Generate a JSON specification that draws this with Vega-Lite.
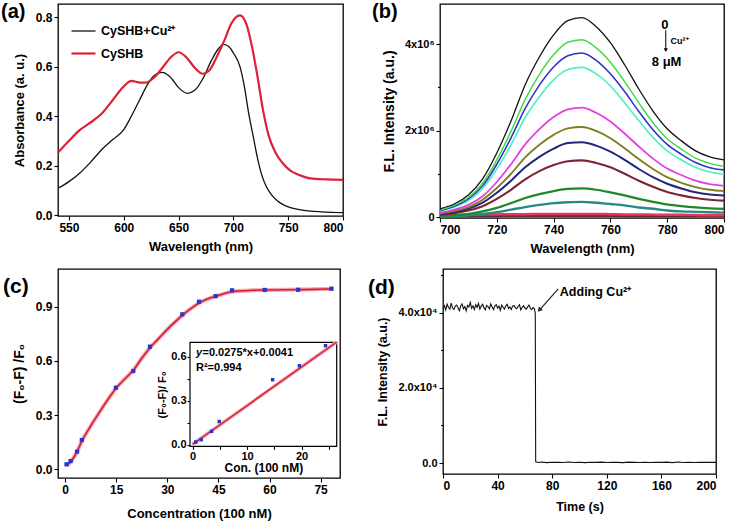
{
  "$schema": "https://vega.github.io/schema/vega-lite/v6.json",
  "padding": {"left": 0, "top": 1, "right": 0, "bottom": 0},
  "autosize": {"type": "pad"},
  "background": "white",
  "config": {
    "font": "Liberation Sans",
    "view": {"stroke": "black", "strokeWidth": 1.3},
    "axis": {"grid": false, "domain": false, "tickColor": "black", "tickWidth": 1.1, "tickSize": 4, "labelFont": "Liberation Sans", "labelFontWeight": "bold", "labelFontSize": 12, "labelColor": "black", "labelPadding": 2, "titleFont": "Liberation Sans", "titleFontWeight": "bold", "titleFontSize": 13, "titleColor": "black"},
    "text": {"font": "Liberation Sans", "fontWeight": "bold", "color": "black"}
  },
  "spacing": 12,
  "resolve": {"scale": {"color": "independent", "strokeWidth": "independent"}, "legend": {"color": "independent", "strokeWidth": "independent"}},
  "vconcat": [
    {
      "spacing": 22,
      "resolve": {"scale": {"color": "independent", "strokeWidth": "independent"}, "legend": {"color": "independent", "strokeWidth": "independent"}},
      "hconcat": [
        {
          "width": 285,
          "height": 212,
          "layer": [
            {
              "data": {"values": [
                {"sample": "CySHB+Cu²⁺", "wavelength": 540, "abs": 0.108},
                {"sample": "CySHB+Cu²⁺", "wavelength": 550, "abs": 0.135},
                {"sample": "CySHB+Cu²⁺", "wavelength": 560, "abs": 0.17},
                {"sample": "CySHB+Cu²⁺", "wavelength": 570, "abs": 0.215},
                {"sample": "CySHB+Cu²⁺", "wavelength": 580, "abs": 0.265},
                {"sample": "CySHB+Cu²⁺", "wavelength": 590, "abs": 0.305},
                {"sample": "CySHB+Cu²⁺", "wavelength": 600, "abs": 0.345},
                {"sample": "CySHB+Cu²⁺", "wavelength": 607, "abs": 0.4},
                {"sample": "CySHB+Cu²⁺", "wavelength": 615, "abs": 0.47},
                {"sample": "CySHB+Cu²⁺", "wavelength": 622, "abs": 0.53},
                {"sample": "CySHB+Cu²⁺", "wavelength": 628, "abs": 0.565},
                {"sample": "CySHB+Cu²⁺", "wavelength": 635, "abs": 0.577},
                {"sample": "CySHB+Cu²⁺", "wavelength": 642, "abs": 0.56},
                {"sample": "CySHB+Cu²⁺", "wavelength": 650, "abs": 0.515},
                {"sample": "CySHB+Cu²⁺", "wavelength": 658, "abs": 0.492},
                {"sample": "CySHB+Cu²⁺", "wavelength": 665, "abs": 0.505},
                {"sample": "CySHB+Cu²⁺", "wavelength": 672, "abs": 0.55},
                {"sample": "CySHB+Cu²⁺", "wavelength": 680, "abs": 0.625},
                {"sample": "CySHB+Cu²⁺", "wavelength": 686, "abs": 0.67},
                {"sample": "CySHB+Cu²⁺", "wavelength": 691, "abs": 0.69},
                {"sample": "CySHB+Cu²⁺", "wavelength": 696, "abs": 0.68},
                {"sample": "CySHB+Cu²⁺", "wavelength": 700, "abs": 0.655},
                {"sample": "CySHB+Cu²⁺", "wavelength": 706, "abs": 0.6},
                {"sample": "CySHB+Cu²⁺", "wavelength": 710, "abs": 0.52},
                {"sample": "CySHB+Cu²⁺", "wavelength": 714, "abs": 0.41},
                {"sample": "CySHB+Cu²⁺", "wavelength": 718, "abs": 0.32},
                {"sample": "CySHB+Cu²⁺", "wavelength": 722, "abs": 0.23},
                {"sample": "CySHB+Cu²⁺", "wavelength": 726, "abs": 0.16},
                {"sample": "CySHB+Cu²⁺", "wavelength": 730, "abs": 0.115},
                {"sample": "CySHB+Cu²⁺", "wavelength": 735, "abs": 0.08},
                {"sample": "CySHB+Cu²⁺", "wavelength": 740, "abs": 0.058},
                {"sample": "CySHB+Cu²⁺", "wavelength": 745, "abs": 0.043},
                {"sample": "CySHB+Cu²⁺", "wavelength": 750, "abs": 0.033},
                {"sample": "CySHB+Cu²⁺", "wavelength": 760, "abs": 0.022},
                {"sample": "CySHB+Cu²⁺", "wavelength": 770, "abs": 0.016},
                {"sample": "CySHB+Cu²⁺", "wavelength": 780, "abs": 0.013},
                {"sample": "CySHB+Cu²⁺", "wavelength": 790, "abs": 0.011},
                {"sample": "CySHB+Cu²⁺", "wavelength": 800, "abs": 0.01},
                {"sample": "CySHB", "wavelength": 540, "abs": 0.252},
                {"sample": "CySHB", "wavelength": 550, "abs": 0.3},
                {"sample": "CySHB", "wavelength": 560, "abs": 0.344},
                {"sample": "CySHB", "wavelength": 570, "abs": 0.375},
                {"sample": "CySHB", "wavelength": 580, "abs": 0.41},
                {"sample": "CySHB", "wavelength": 590, "abs": 0.465},
                {"sample": "CySHB", "wavelength": 600, "abs": 0.52},
                {"sample": "CySHB", "wavelength": 607, "abs": 0.542},
                {"sample": "CySHB", "wavelength": 615, "abs": 0.535},
                {"sample": "CySHB", "wavelength": 620, "abs": 0.535},
                {"sample": "CySHB", "wavelength": 628, "abs": 0.557},
                {"sample": "CySHB", "wavelength": 635, "abs": 0.594},
                {"sample": "CySHB", "wavelength": 643, "abs": 0.638},
                {"sample": "CySHB", "wavelength": 650, "abs": 0.658},
                {"sample": "CySHB", "wavelength": 657, "abs": 0.638},
                {"sample": "CySHB", "wavelength": 665, "abs": 0.594},
                {"sample": "CySHB", "wavelength": 672, "abs": 0.571},
                {"sample": "CySHB", "wavelength": 678, "abs": 0.584},
                {"sample": "CySHB", "wavelength": 685, "abs": 0.641},
                {"sample": "CySHB", "wavelength": 692, "abs": 0.708},
                {"sample": "CySHB", "wavelength": 698, "abs": 0.773},
                {"sample": "CySHB", "wavelength": 706, "abs": 0.807},
                {"sample": "CySHB", "wavelength": 712, "abs": 0.77},
                {"sample": "CySHB", "wavelength": 717, "abs": 0.68},
                {"sample": "CySHB", "wavelength": 722, "abs": 0.56},
                {"sample": "CySHB", "wavelength": 727, "abs": 0.425},
                {"sample": "CySHB", "wavelength": 732, "abs": 0.324},
                {"sample": "CySHB", "wavelength": 738, "abs": 0.256},
                {"sample": "CySHB", "wavelength": 745, "abs": 0.209},
                {"sample": "CySHB", "wavelength": 752, "abs": 0.179},
                {"sample": "CySHB", "wavelength": 760, "abs": 0.162},
                {"sample": "CySHB", "wavelength": 770, "abs": 0.148},
                {"sample": "CySHB", "wavelength": 785, "abs": 0.144},
                {"sample": "CySHB", "wavelength": 800, "abs": 0.142}
              ]},
              "mark": {"type": "line", "interpolate": "monotone"},
              "encoding": {
                "x": {"field": "wavelength", "type": "quantitative", "scale": {"domain": [540, 800], "nice": false, "zero": false},
                      "axis": {"title": "Wavelength (nm)", "titlePadding": 7, "values": [550, 575, 600, 625, 650, 675, 700, 725, 750, 775, 800],
                               "labelExpr": "datum.value % 50 === 0 ? format(datum.value, 'd') : ''",
                               "tickSize": {"condition": {"test": "datum.value % 50 === 0", "value": 4}, "value": 2.5}}},
                "y": {"field": "abs", "type": "quantitative", "scale": {"domain": [-0.004, 0.853], "nice": false, "zero": false},
                      "axis": {"title": "Absorbance (a. u.)", "titlePadding": 9, "values": [0, 0.1, 0.2, 0.3, 0.4, 0.5, 0.6, 0.7, 0.8],
                               "labelExpr": "round(datum.value * 10) % 2 === 0 ? format(datum.value, '.1f') : ''",
                               "tickSize": {"condition": {"test": "round(datum.value * 10) % 2 === 0", "value": 4}, "value": 2.5}}},
                "color": {"field": "sample", "type": "nominal", "scale": {"domain": ["CySHB+Cu²⁺", "CySHB"], "range": ["#111111", "#dc2238"]},
                          "legend": {"orient": "none", "legendX": 12, "legendY": 14, "title": null, "symbolType": "stroke", "symbolSize": 576, "symbolStrokeWidth": 1.8, "labelFontSize": 12.5, "labelFontWeight": "bold", "labelFont": "Liberation Sans", "labelColor": "black", "rowPadding": 2, "labelOffset": 4}},
                "strokeWidth": {"field": "sample", "type": "nominal", "scale": {"domain": ["CySHB+Cu²⁺", "CySHB"], "range": [1.3, 2.2]}, "legend": null}
              }
            },
            {
              "data": {"values": [{"t": "(a)"}]},
              "mark": {"type": "text", "align": "left", "baseline": "top", "fontSize": 20, "dx": -57, "dy": -2},
              "encoding": {"x": {"datum": 540, "type": "quantitative"}, "y": {"datum": 0.853, "type": "quantitative"}, "text": {"field": "t"}}
            }
          ]
        },
        {
          "width": 284,
          "height": 214,
          "layer": [
            {
              "data": {"values": [
                {"w": 700, "c01": 0.19, "c02": 0.16, "c03": 0.15, "c04": 0.14, "c05": 0.10, "c06": 0.08, "c07": 0.07, "c08": 0.05, "c09": 0.03, "c10": 0.01, "c11": 0.04, "c12": 0.02},
                {"w": 705, "c01": 0.30, "c02": 0.27, "c03": 0.25, "c04": 0.23, "c05": 0.17, "c06": 0.14, "c07": 0.11, "c08": 0.09, "c09": 0.04, "c10": 0.02, "c11": 0.045, "c12": 0.02},
                {"w": 710, "c01": 0.51, "c02": 0.45, "c03": 0.42, "c04": 0.38, "c05": 0.28, "c06": 0.23, "c07": 0.19, "c08": 0.15, "c09": 0.07, "c10": 0.04, "c11": 0.05, "c12": 0.02},
                {"w": 715, "c01": 0.88, "c02": 0.78, "c03": 0.72, "c04": 0.66, "c05": 0.48, "c06": 0.40, "c07": 0.33, "c08": 0.25, "c09": 0.13, "c10": 0.07, "c11": 0.055, "c12": 0.02},
                {"w": 720, "c01": 1.48, "c02": 1.32, "c03": 1.22, "c04": 1.11, "c05": 0.81, "c06": 0.67, "c07": 0.56, "c08": 0.42, "c09": 0.21, "c10": 0.11, "c11": 0.06, "c12": 0.02},
                {"w": 725, "c01": 2.22, "c02": 1.98, "c03": 1.83, "c04": 1.67, "c05": 1.22, "c06": 1.00, "c07": 0.84, "c08": 0.63, "c09": 0.32, "c10": 0.17, "c11": 0.065, "c12": 0.025},
                {"w": 730, "c01": 3.06, "c02": 2.72, "c03": 2.51, "c04": 2.30, "c05": 1.68, "c06": 1.38, "c07": 1.15, "c08": 0.87, "c09": 0.44, "c10": 0.23, "c11": 0.065, "c12": 0.025},
                {"w": 735, "c01": 3.70, "c02": 3.30, "c03": 3.05, "c04": 2.78, "c05": 2.03, "c06": 1.67, "c07": 1.39, "c08": 1.06, "c09": 0.53, "c10": 0.28, "c11": 0.07, "c12": 0.025},
                {"w": 740, "c01": 4.21, "c02": 3.75, "c03": 3.47, "c04": 3.17, "c05": 2.31, "c06": 1.90, "c07": 1.58, "c08": 1.20, "c09": 0.60, "c10": 0.32, "c11": 0.07, "c12": 0.025},
                {"w": 745, "c01": 4.54, "c02": 4.04, "c03": 3.73, "c04": 3.41, "c05": 2.49, "c06": 2.05, "c07": 1.71, "c08": 1.29, "c09": 0.65, "c10": 0.34, "c11": 0.07, "c12": 0.025},
                {"w": 750, "c01": 4.61, "c02": 4.10, "c03": 3.79, "c04": 3.46, "c05": 2.53, "c06": 2.08, "c07": 1.73, "c08": 1.31, "c09": 0.66, "c10": 0.35, "c11": 0.07, "c12": 0.025},
                {"w": 755, "c01": 4.40, "c02": 3.91, "c03": 3.62, "c04": 3.31, "c05": 2.41, "c06": 1.99, "c07": 1.65, "c08": 1.25, "c09": 0.63, "c10": 0.33, "c11": 0.07, "c12": 0.025},
                {"w": 760, "c01": 4.03, "c02": 3.58, "c03": 3.31, "c04": 3.03, "c05": 2.21, "c06": 1.82, "c07": 1.51, "c08": 1.15, "c09": 0.57, "c10": 0.30, "c11": 0.065, "c12": 0.025},
                {"w": 765, "c01": 3.52, "c02": 3.13, "c03": 2.90, "c04": 2.64, "c05": 1.93, "c06": 1.59, "c07": 1.32, "c08": 1.00, "c09": 0.50, "c10": 0.27, "c11": 0.06, "c12": 0.02},
                {"w": 770, "c01": 2.96, "c02": 2.64, "c03": 2.44, "c04": 2.23, "c05": 1.63, "c06": 1.34, "c07": 1.11, "c08": 0.84, "c09": 0.42, "c10": 0.22, "c11": 0.06, "c12": 0.02},
                {"w": 775, "c01": 2.45, "c02": 2.18, "c03": 2.02, "c04": 1.84, "c05": 1.35, "c06": 1.11, "c07": 0.92, "c08": 0.70, "c09": 0.35, "c10": 0.19, "c11": 0.055, "c12": 0.02},
                {"w": 780, "c01": 2.04, "c02": 1.81, "c03": 1.68, "c04": 1.53, "c05": 1.12, "c06": 0.92, "c07": 0.77, "c08": 0.58, "c09": 0.29, "c10": 0.15, "c11": 0.05, "c12": 0.02},
                {"w": 785, "c01": 1.76, "c02": 1.57, "c03": 1.45, "c04": 1.32, "c05": 0.97, "c06": 0.79, "c07": 0.66, "c08": 0.50, "c09": 0.25, "c10": 0.13, "c11": 0.05, "c12": 0.02},
                {"w": 790, "c01": 1.53, "c02": 1.36, "c03": 1.26, "c04": 1.15, "c05": 0.84, "c06": 0.69, "c07": 0.57, "c08": 0.44, "c09": 0.22, "c10": 0.12, "c11": 0.045, "c12": 0.02},
                {"w": 795, "c01": 1.39, "c02": 1.24, "c03": 1.14, "c04": 1.04, "c05": 0.76, "c06": 0.63, "c07": 0.52, "c08": 0.40, "c09": 0.20, "c10": 0.11, "c11": 0.04, "c12": 0.02},
                {"w": 800, "c01": 1.32, "c02": 1.17, "c03": 1.09, "c04": 0.99, "c05": 0.72, "c06": 0.60, "c07": 0.50, "c08": 0.38, "c09": 0.19, "c10": 0.10, "c11": 0.04, "c12": 0.02}
              ]},
              "transform": [{"fold": ["c12", "c11", "c10", "c09", "c08", "c07", "c06", "c05", "c04", "c03", "c02", "c01"], "as": ["curve", "intensity"]}],
              "mark": {"type": "line", "interpolate": "monotone"},
              "encoding": {
                "x": {"field": "w", "type": "quantitative", "scale": {"domain": [700, 800], "nice": false, "zero": false},
                      "axis": {"title": "Wavelength (nm)", "titlePadding": 7, "values": [700, 710, 720, 730, 740, 750, 760, 770, 780, 790, 800],
                               "labelExpr": "datum.value % 20 === 0 ? format(datum.value, 'd') : ''",
                               "tickSize": {"condition": {"test": "datum.value % 20 === 0", "value": 4}, "value": 2.5}}},
                "y": {"field": "intensity", "type": "quantitative", "scale": {"domain": [-0.023, 4.925], "nice": false, "zero": false},
                      "axis": {"title": "F.L. Intensity (a.u.)", "titleFontSize": 14, "titlePadding": 8, "labelFontSize": 11, "values": [0, 0.5, 1, 1.5, 2, 2.5, 3, 3.5, 4, 4.5],
                               "labelExpr": "datum.value === 0 ? '0' : datum.value === 2 ? '2x10⁶' : datum.value === 4 ? '4x10⁶' : ''",
                               "tickSize": {"condition": {"test": "datum.value % 2 === 0", "value": 4}, "value": 2.5}}},
                "color": {"field": "curve", "type": "nominal", "legend": null,
                          "scale": {"domain": ["c01", "c02", "c03", "c04", "c05", "c06", "c07", "c08", "c09", "c10", "c11", "c12"],
                                    "range": ["#111111", "#3ddc3d", "#2e32c8", "#4ff0c4", "#e43ee4", "#7f7f1c", "#23267e", "#7e2434", "#24862a", "#258a86", "#e8365a", "#6a2a3a"]}},
                "strokeWidth": {"field": "curve", "type": "nominal", "legend": null,
                                "scale": {"domain": ["c01", "c02", "c03", "c04", "c05", "c06", "c07", "c08", "c09", "c10", "c11", "c12"],
                                          "range": [1.3, 2.6, 1.5, 2.6, 2.6, 1.5, 1.5, 1.5, 1.5, 1.5, 1.8, 1.2]}}
              }
            },
            {
              "data": {"values": [{"w": 779.5, "top": 4.32, "bottom": 3.86}]},
              "mark": {"type": "rule", "color": "black", "strokeWidth": 1},
              "encoding": {"x": {"field": "w", "type": "quantitative"}, "y": {"field": "top", "type": "quantitative"}, "y2": {"field": "bottom"}}
            },
            {
              "data": {"values": [{"w": 779.5, "tip": 3.86}]},
              "mark": {"type": "point", "shape": "triangle-down", "filled": true, "color": "black", "size": 18, "opacity": 1},
              "encoding": {"x": {"field": "w", "type": "quantitative"}, "y": {"field": "tip", "type": "quantitative"}}
            },
            {
              "data": {"values": [
                {"w": 779.2, "y": 4.44, "label": "0"},
                {"w": 779.8, "y": 3.59, "label": "8 μM"}
              ]},
              "mark": {"type": "text", "align": "center", "baseline": "middle", "fontSize": 13},
              "encoding": {"x": {"field": "w", "type": "quantitative"}, "y": {"field": "y", "type": "quantitative"}, "text": {"field": "label"}}
            },
            {
              "data": {"values": [{"w": 781.2, "y": 4.07, "label": "Cu²⁺"}]},
              "mark": {"type": "text", "align": "left", "baseline": "middle", "fontSize": 9},
              "encoding": {"x": {"field": "w", "type": "quantitative"}, "y": {"field": "y", "type": "quantitative"}, "text": {"field": "label"}}
            },
            {
              "data": {"values": [{"t": "(b)"}]},
              "mark": {"type": "text", "align": "left", "baseline": "top", "fontSize": 20, "dx": -68, "dy": -2},
              "encoding": {"x": {"datum": 700, "type": "quantitative"}, "y": {"datum": 4.925, "type": "quantitative"}, "text": {"field": "t"}}
            }
          ]
        }
      ]
    },
    {
      "spacing": 22,
      "hconcat": [
        {
          "width": 282,
          "height": 209,
          "resolve": {"scale": {"x": "independent", "y": "independent"}, "axis": {"x": "independent", "y": "independent"}},
          "layer": [
            {
              "layer": [
                {
                  "data": {"values": [
                    {"conc": 0.4, "fit": 0.02}, {"conc": 2, "fit": 0.05}, {"conc": 3.5, "fit": 0.098}, {"conc": 5, "fit": 0.16},
                    {"conc": 7.5, "fit": 0.24}, {"conc": 10, "fit": 0.314}, {"conc": 12.5, "fit": 0.385}, {"conc": 15, "fit": 0.45},
                    {"conc": 17.5, "fit": 0.5}, {"conc": 20, "fit": 0.548}, {"conc": 22.5, "fit": 0.615}, {"conc": 25, "fit": 0.675},
                    {"conc": 27.5, "fit": 0.725}, {"conc": 30, "fit": 0.775}, {"conc": 32.5, "fit": 0.82}, {"conc": 35, "fit": 0.862},
                    {"conc": 37.5, "fit": 0.898}, {"conc": 40, "fit": 0.928}, {"conc": 42.5, "fit": 0.948}, {"conc": 45, "fit": 0.963},
                    {"conc": 47.5, "fit": 0.977}, {"conc": 50, "fit": 0.986}, {"conc": 55, "fit": 0.991}, {"conc": 60, "fit": 0.993},
                    {"conc": 70, "fit": 0.995}, {"conc": 78.6, "fit": 0.999}
                  ]},
                  "layer": [
                    {
                      "mark": {"type": "line", "interpolate": "monotone", "color": "#f4a3b4", "strokeWidth": 4},
                      "encoding": {
                        "x": {"field": "conc", "type": "quantitative", "scale": {"domain": [-2.1, 80.7], "nice": false, "zero": false},
                              "axis": {"title": "Concentration (100 nM)", "titlePadding": 12, "values": [0, 7.5, 15, 22.5, 30, 37.5, 45, 52.5, 60, 67.5, 75],
                                       "labelExpr": "datum.value % 15 === 0 ? format(datum.value, 'd') : ''",
                                       "tickSize": {"condition": {"test": "datum.value % 15 === 0", "value": 4}, "value": 2.5}}},
                        "y": {"field": "fit", "type": "quantitative", "scale": {"domain": [-0.048, 1.109], "nice": false, "zero": false},
                              "axis": {"title": "(F₀-F) /F₀", "titleFontSize": 14, "titlePadding": 9, "values": [0, 0.15, 0.3, 0.45, 0.6, 0.75, 0.9, 1.05],
                                       "labelExpr": "round(datum.value * 100) % 30 === 0 ? format(datum.value, '.1f') : ''",
                                       "tickSize": {"condition": {"test": "round(datum.value * 100) % 30 === 0", "value": 4}, "value": 2.5}}}
                      }
                    },
                    {
                      "mark": {"type": "line", "interpolate": "monotone", "color": "#d81e2e", "strokeWidth": 1.6},
                      "encoding": {"x": {"field": "conc", "type": "quantitative"}, "y": {"field": "fit", "type": "quantitative"}}
                    }
                  ]
                },
                {
                  "data": {"values": [
                    {"conc": 0.4, "ratio": 0.028}, {"conc": 1.6, "ratio": 0.046}, {"conc": 3.5, "ratio": 0.098}, {"conc": 4.9, "ratio": 0.162},
                    {"conc": 14.9, "ratio": 0.452}, {"conc": 20, "ratio": 0.544}, {"conc": 24.9, "ratio": 0.679}, {"conc": 34.4, "ratio": 0.858},
                    {"conc": 39.3, "ratio": 0.928}, {"conc": 44.2, "ratio": 0.959}, {"conc": 49, "ratio": 0.991}, {"conc": 58.6, "ratio": 0.993},
                    {"conc": 68.4, "ratio": 0.994}, {"conc": 78.2, "ratio": 1.0}
                  ]},
                  "mark": {"type": "square", "color": "#2438d0", "size": 18, "opacity": 1},
                  "encoding": {"x": {"field": "conc", "type": "quantitative"}, "y": {"field": "ratio", "type": "quantitative"}}
                },
                {
                  "data": {"values": [{"t": "(c)"}]},
                  "mark": {"type": "text", "align": "left", "baseline": "top", "fontSize": 21, "dx": -55, "dy": 7},
                  "encoding": {"x": {"datum": -2.1, "type": "quantitative"}, "y": {"datum": 1.109, "type": "quantitative"}, "text": {"field": "t"}}
                }
              ]
            },
            {
              "layer": [
                {
                  "data": {"values": [{"x0": -0.46, "x1": 26.45, "y0": -0.009, "y1": 0.7}]},
                  "mark": {"type": "rect", "fill": "white", "stroke": "black", "strokeWidth": 1.2},
                  "encoding": {
                    "x": {"field": "x0", "type": "quantitative", "scale": {"domain": [-0.46, 26.45], "range": [132, 278.7], "nice": false, "zero": false},
                          "axis": {"orient": "bottom", "offset": -31.7, "title": "Con. (100 nM)", "titleFontSize": 12, "titlePadding": 1, "labelFontSize": 11, "labelPadding": 1, "tickSize": 3,
                                   "values": [0, 5, 10, 15, 20, 25], "labelExpr": "datum.value % 10 === 0 ? format(datum.value, 'd') : ''"}},
                    "x2": {"field": "x1"},
                    "y": {"field": "y0", "type": "quantitative", "scale": {"domain": [-0.009, 0.7], "range": [177.3, 73.3], "nice": false, "zero": false},
                          "axis": {"orient": "left", "offset": -132, "title": "(F₀-F)/ F₀", "titleFontSize": 11, "titlePadding": 3, "labelFontSize": 11, "labelPadding": 1, "tickSize": 3,
                                   "values": [0, 0.15, 0.3, 0.45, 0.6], "labelExpr": "round(datum.value * 100) % 30 === 0 ? format(datum.value, '.1f') : ''"}},
                    "y2": {"field": "y1"}
                  }
                },
                {
                  "data": {"values": [{"conc": 0, "fit": 0.005}, {"conc": 26.4, "fit": 0.7}]},
                  "layer": [
                    {
                      "mark": {"type": "line", "color": "#f4a3b4", "strokeWidth": 3.5},
                      "encoding": {"x": {"field": "conc", "type": "quantitative", "scale": {"domain": [-0.46, 26.45], "range": [132, 278.7], "nice": false, "zero": false}},
                                   "y": {"field": "fit", "type": "quantitative", "scale": {"domain": [-0.009, 0.7], "range": [177.3, 73.3], "nice": false, "zero": false}}}
                    },
                    {
                      "mark": {"type": "line", "color": "#cf1f30", "strokeWidth": 1.4},
                      "encoding": {"x": {"field": "conc", "type": "quantitative"}, "y": {"field": "fit", "type": "quantitative"}}
                    }
                  ]
                },
                {
                  "data": {"values": [
                    {"conc": 0.6, "ratio": 0.02}, {"conc": 1.6, "ratio": 0.036}, {"conc": 3.5, "ratio": 0.093}, {"conc": 4.9, "ratio": 0.16},
                    {"conc": 14.7, "ratio": 0.445}, {"conc": 19.6, "ratio": 0.54}, {"conc": 24.4, "ratio": 0.677}
                  ]},
                  "mark": {"type": "square", "color": "#2438c0", "size": 12, "opacity": 1},
                  "encoding": {"x": {"field": "conc", "type": "quantitative"}, "y": {"field": "ratio", "type": "quantitative"}}
                },
                {
                  "data": {"values": [{"x": 0.64, "y": 0.627, "label": "y"}]},
                  "mark": {"type": "text", "align": "left", "baseline": "middle", "fontSize": 11, "fontStyle": "italic"},
                  "encoding": {"x": {"field": "x", "type": "quantitative"}, "y": {"field": "y", "type": "quantitative"}, "text": {"field": "label"}}
                },
                {
                  "data": {"values": [{"x": 0.64, "y": 0.627, "label": "=0.0275*x+0.0041"}]},
                  "mark": {"type": "text", "align": "left", "baseline": "middle", "fontSize": 11, "dx": 6.5},
                  "encoding": {"x": {"field": "x", "type": "quantitative"}, "y": {"field": "y", "type": "quantitative"}, "text": {"field": "label"}}
                },
                {
                  "data": {"values": [{"x": 0.64, "y": 0.523, "label": "R²=0.994"}]},
                  "mark": {"type": "text", "align": "left", "baseline": "middle", "fontSize": 11},
                  "encoding": {"x": {"field": "x", "type": "quantitative"}, "y": {"field": "y", "type": "quantitative"}, "text": {"field": "label"}}
                }
              ]
            }
          ]
        },
        {
          "width": 273,
          "height": 205,
          "layer": [
            {
              "data": {"values": [
                {"t": 0, "I": 41200}, {"t": 1, "I": 41900}, {"t": 2, "I": 40800}, {"t": 3, "I": 42300}, {"t": 4, "I": 41500},
                {"t": 5, "I": 41000}, {"t": 6, "I": 42600}, {"t": 7, "I": 41300}, {"t": 8, "I": 40900}, {"t": 9, "I": 41800},
                {"t": 10, "I": 42100}, {"t": 11, "I": 41400}, {"t": 12, "I": 40600}, {"t": 13, "I": 41900}, {"t": 14, "I": 42400},
                {"t": 15, "I": 41100}, {"t": 16, "I": 41700}, {"t": 17, "I": 40500}, {"t": 18, "I": 42000}, {"t": 19, "I": 41600},
                {"t": 20, "I": 42800}, {"t": 21, "I": 41200}, {"t": 22, "I": 41900}, {"t": 23, "I": 40900}, {"t": 24, "I": 42200},
                {"t": 25, "I": 41500}, {"t": 26, "I": 42500}, {"t": 27, "I": 41000}, {"t": 28, "I": 41800}, {"t": 29, "I": 42300},
                {"t": 30, "I": 41400}, {"t": 31, "I": 40800}, {"t": 32, "I": 42000}, {"t": 33, "I": 41700}, {"t": 34, "I": 41100},
                {"t": 35, "I": 42400}, {"t": 36, "I": 41600}, {"t": 37, "I": 40900}, {"t": 38, "I": 41900}, {"t": 39, "I": 42200},
                {"t": 40, "I": 41300}, {"t": 41, "I": 41800}, {"t": 42, "I": 40700}, {"t": 43, "I": 42100}, {"t": 44, "I": 41500},
                {"t": 45, "I": 41000}, {"t": 46, "I": 41900}, {"t": 47, "I": 42300}, {"t": 48, "I": 41200}, {"t": 49, "I": 41600},
                {"t": 50, "I": 40900}, {"t": 51, "I": 41800}, {"t": 52, "I": 42000}, {"t": 53, "I": 41400}, {"t": 54, "I": 41100},
                {"t": 55, "I": 41700}, {"t": 56, "I": 42200}, {"t": 57, "I": 40800}, {"t": 58, "I": 41500}, {"t": 59, "I": 41900},
                {"t": 60, "I": 41300}, {"t": 61, "I": 41000}, {"t": 62, "I": 41600}, {"t": 63, "I": 42100}, {"t": 64, "I": 41200},
                {"t": 65, "I": 40900}, {"t": 66, "I": 41400}, {"t": 67, "I": 41100}, {"t": 67.6, "I": 39800}, {"t": 67.9, "I": 300},
                {"t": 70, "I": 150}, {"t": 72, "I": 250}, {"t": 76, "I": 100}, {"t": 80, "I": 200}, {"t": 84, "I": 180},
                {"t": 88, "I": 120}, {"t": 92, "I": 260}, {"t": 96, "I": 150}, {"t": 100, "I": 200}, {"t": 104, "I": 90},
                {"t": 108, "I": 220}, {"t": 112, "I": 170}, {"t": 116, "I": 240}, {"t": 120, "I": 130}, {"t": 124, "I": 200},
                {"t": 128, "I": 160}, {"t": 132, "I": 110}, {"t": 136, "I": 230}, {"t": 140, "I": 180}, {"t": 144, "I": 140},
                {"t": 148, "I": 210}, {"t": 152, "I": 120}, {"t": 156, "I": 190}, {"t": 160, "I": 160}, {"t": 164, "I": 230},
                {"t": 168, "I": 100}, {"t": 172, "I": 270}, {"t": 176, "I": 150}, {"t": 180, "I": 190}, {"t": 184, "I": 130},
                {"t": 188, "I": 210}, {"t": 192, "I": 160}, {"t": 196, "I": 180}, {"t": 200, "I": 170}
              ]},
              "mark": {"type": "line", "color": "#111111", "strokeWidth": 1.1},
              "encoding": {
                "x": {"field": "t", "type": "quantitative", "scale": {"domain": [0, 200], "nice": false, "zero": false},
                      "axis": {"title": "Time (s)", "titleFontSize": 12.5, "titlePadding": 9, "values": [0, 20, 40, 60, 80, 100, 120, 140, 160, 180, 200],
                               "labelExpr": "datum.value % 40 === 0 ? format(datum.value, 'd') : ''",
                               "tickSize": {"condition": {"test": "datum.value % 40 === 0", "value": 4}, "value": 2.5}}},
                "y": {"field": "I", "type": "quantitative", "scale": {"domain": [-2930, 51700], "nice": false, "zero": false},
                      "axis": {"title": "F.L. Intensity (a.u.)", "titleFontSize": 12.5, "titlePadding": 8, "labelFontSize": 11, "values": [0, 10000, 20000, 30000, 40000, 50000],
                               "labelExpr": "datum.value === 0 ? '0.0' : datum.value === 20000 ? '2.0x10⁴' : datum.value === 40000 ? '4.0x10⁴' : ''",
                               "tickSize": {"condition": {"test": "datum.value % 20000 === 0", "value": 4}, "value": 2.5}}}
              }
            },
            {
              "data": {"values": [{"t1": 84.4, "i1": 46400, "t2": 70.5, "i2": 40700}]},
              "mark": {"type": "rule", "color": "#222222", "strokeWidth": 1.2},
              "encoding": {"x": {"field": "t1", "type": "quantitative"}, "y": {"field": "i1", "type": "quantitative"}, "x2": {"field": "t2"}, "y2": {"field": "i2"}}
            },
            {
              "data": {"values": [{"t": 70.6, "i": 40800}]},
              "mark": {"type": "point", "shape": "triangle-up", "filled": true, "color": "#222222", "size": 28, "angle": 221, "opacity": 1},
              "encoding": {"x": {"field": "t", "type": "quantitative"}, "y": {"field": "i", "type": "quantitative"}}
            },
            {
              "data": {"values": [{"t": 85.6, "i": 45500, "label": "Adding Cu²⁺"}]},
              "mark": {"type": "text", "align": "left", "baseline": "middle", "fontSize": 12.5},
              "encoding": {"x": {"field": "t", "type": "quantitative"}, "y": {"field": "i", "type": "quantitative"}, "text": {"field": "label"}}
            },
            {
              "data": {"values": [{"t": "(d)"}]},
              "mark": {"type": "text", "align": "left", "baseline": "top", "fontSize": 21, "dx": -75, "dy": 8},
              "encoding": {"x": {"datum": 0, "type": "quantitative"}, "y": {"datum": 51700, "type": "quantitative"}, "text": {"field": "t"}}
            }
          ]
        }
      ]
    }
  ]
}
